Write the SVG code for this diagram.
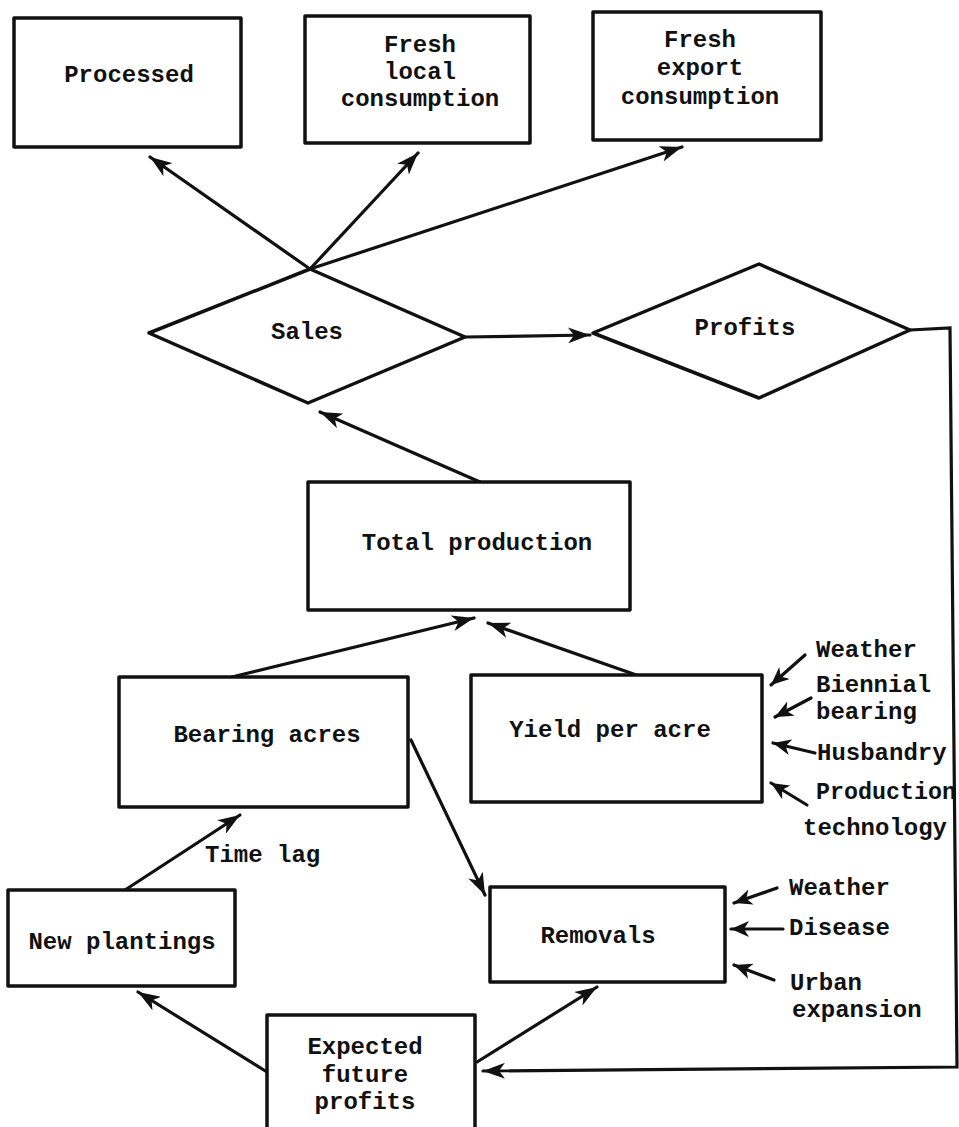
<svg xmlns="http://www.w3.org/2000/svg" width="959" height="1127" viewBox="0 0 959 1127">
<style>
.box{fill:#fff;stroke:#111;stroke-width:3.5;stroke-linejoin:round}
.t{font-family:"Liberation Mono","Courier New",monospace;font-weight:bold;font-size:24px;fill:#111;text-anchor:middle}
.l{text-anchor:start}
.c{fill:none;stroke:#111;stroke-width:3.2;stroke-linecap:round}
</style>
<defs>
<marker id="ah" markerUnits="userSpaceOnUse" markerWidth="24" markerHeight="16" refX="22" refY="8" orient="auto"><path d="M0,0 L22,8 L0,16 L6,8 z" fill="#111"/></marker>
<marker id="ahs" markerUnits="userSpaceOnUse" markerWidth="20" markerHeight="16" refX="18" refY="8" orient="auto"><path d="M0,0 L18,8 L0,16 L5,8 z" fill="#111"/></marker>
</defs>
<rect width="959" height="1127" fill="#fff"/>
<g id="connectors">
<line class="c" x1="310" y1="269" x2="150" y2="157" marker-end="url(#ah)"/>
<line class="c" x1="310" y1="269" x2="418" y2="153" marker-end="url(#ah)"/>
<line class="c" x1="310" y1="269" x2="682" y2="147" marker-end="url(#ah)"/>
<line class="c" x1="465" y1="337" x2="590" y2="335" marker-end="url(#ah)"/>
<line class="c" x1="480" y1="482" x2="320" y2="412" marker-end="url(#ah)"/>
<line class="c" x1="232" y1="677" x2="474" y2="618" marker-end="url(#ah)"/>
<line class="c" x1="642" y1="677" x2="488" y2="623" marker-end="url(#ah)"/>
<line class="c" x1="125" y1="890" x2="240" y2="815" marker-end="url(#ah)"/>
<line class="c" x1="411" y1="740" x2="485" y2="895" marker-end="url(#ah)"/>
<line class="c" x1="267" y1="1072" x2="138" y2="992" marker-end="url(#ah)"/>
<line class="c" x1="477" y1="1062" x2="597" y2="987" marker-end="url(#ah)"/>
<polyline class="c" points="910,330 950,328 957,1067 483,1071" marker-end="url(#ah)"/>
<line class="c" x1="805" y1="655" x2="771" y2="685" marker-end="url(#ahs)"/>
<line class="c" x1="811" y1="698" x2="775" y2="717" marker-end="url(#ahs)"/>
<line class="c" x1="815" y1="753" x2="773" y2="743" marker-end="url(#ahs)"/>
<line class="c" x1="807" y1="805" x2="771" y2="783" marker-end="url(#ahs)"/>
<line class="c" x1="777" y1="888" x2="734" y2="903" marker-end="url(#ahs)"/>
<line class="c" x1="783" y1="929" x2="731" y2="929" marker-end="url(#ahs)"/>
<line class="c" x1="774" y1="980" x2="734" y2="965" marker-end="url(#ahs)"/>
</g>
<g id="processed"><rect class="box" x="14" y="18" width="227" height="129"/><text class="t" x="129" y="82">Processed</text></g>
<g id="fresh-local"><rect class="box" x="305" y="16" width="225" height="127"/><text class="t" x="420" y="52">Fresh</text><text class="t" x="420" y="79">local</text><text class="t" x="420" y="106">consumption</text></g>
<g id="fresh-export"><rect class="box" x="593" y="12" width="228" height="128"/><text class="t" x="700" y="47">Fresh</text><text class="t" x="700" y="75">export</text><text class="t" x="700" y="104">consumption</text></g>
<g id="sales"><polygon class="box" points="149,333 310,269 465,337 308,403"/><text class="t" x="307" y="339">Sales</text></g>
<g id="profits"><polygon class="box" points="593,333 759,264 910,330 759,398"/><text class="t" x="745" y="335">Profits</text></g>
<g id="total-production"><rect class="box" x="308" y="482" width="322" height="128"/><text class="t" x="477" y="550">Total production</text></g>
<g id="bearing-acres"><rect class="box" x="119" y="677" width="289" height="130"/><text class="t" x="267" y="742">Bearing acres</text></g>
<g id="yield"><rect class="box" x="471" y="675" width="291" height="127"/><text class="t" x="610" y="737">Yield per acre</text></g>
<g id="yield-factors">
<text class="t l" x="816" y="657">Weather</text>
<text class="t l" x="816" y="692">Biennial</text>
<text class="t l" x="816" y="719">bearing</text>
<text class="t l" x="817" y="760">Husbandry</text>
<text class="t l" x="816" y="799" textLength="140" lengthAdjust="spacingAndGlyphs">Production</text>
<text class="t l" x="803" y="835">technology</text>
</g>
<g id="time-lag"><text class="t l" x="205" y="862">Time lag</text></g>
<g id="new-plantings"><rect class="box" x="8" y="890" width="227" height="96"/><text class="t" x="122" y="949">New plantings</text></g>
<g id="removals"><rect class="box" x="490" y="887" width="235" height="95"/><text class="t" x="598" y="943">Removals</text></g>
<g id="removal-factors">
<text class="t l" x="789" y="895">Weather</text>
<text class="t l" x="789" y="935">Disease</text>
<text class="t l" x="790" y="990">Urban</text>
<text class="t l" x="792" y="1017">expansion</text>
</g>
<g id="expected-future-profits"><rect class="box" x="267" y="1015" width="208" height="116"/><text class="t" x="365" y="1054">Expected</text><text class="t" x="365" y="1082">future</text><text class="t" x="365" y="1109">profits</text></g>
</svg>
